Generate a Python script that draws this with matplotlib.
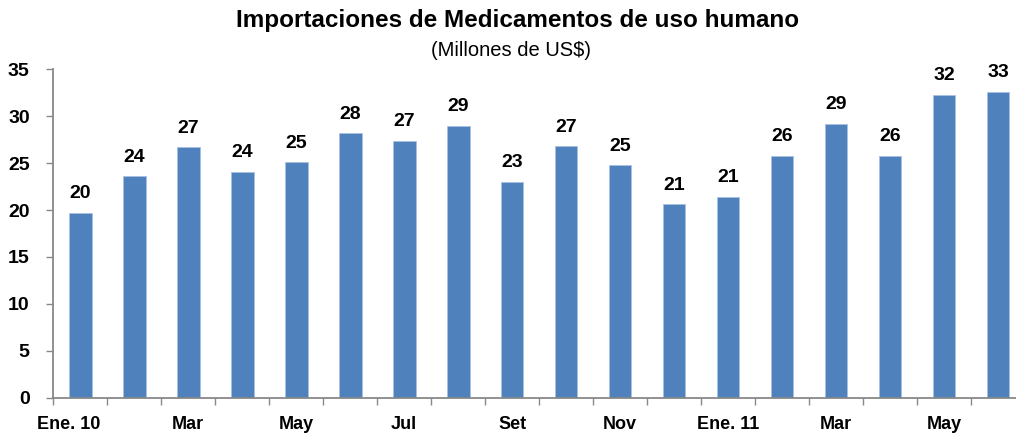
import matplotlib
matplotlib.use("Agg")
import matplotlib.pyplot as plt
import matplotlib.transforms as mtransforms
import numpy as np

plt.rcParams['font.family'] = ['Liberation Sans', 'DejaVu Sans']

months = ["Ene. 10", "Feb", "Mar", "Abr", "May", "Jun", "Jul", "Ago", "Set", "Oct",
          "Nov", "Dic", "Ene. 11", "Feb", "Mar", "Abr", "May", "Jun"]
values = [19.7, 23.6, 26.7, 24.1, 25.1, 28.2, 27.4, 29.0, 23.0, 26.8,
          24.8, 20.6, 21.4, 25.8, 29.2, 25.8, 32.3, 32.6]
yticks = [0, 5, 10, 15, 20, 25, 30, 35]

W, H = 1016, 436
fig = plt.figure(figsize=(W / 100, H / 100), dpi=100)
ax = fig.add_axes([53.3 / W, 38.3 / H, (1025 - 53.3) / W, (397.7 - 69.3) / H])

x = np.arange(len(values))
ax.bar(x, values, width=0.42, color="#4F81BD", edgecolor="#A9C1E0", linewidth=0.6, zorder=2)

for xi, v in zip(x, values):
    ax.annotate(f"{v:.0f}", (xi, v), xytext=(0, 7.5), textcoords="offset points",
                ha="center", va="bottom", fontsize=14, fontweight="bold", color="black")

ax.set_xlim(-0.5, len(values) - 0.5)
ax.set_ylim(0, 35)
ax.set_yticks(yticks)
ax.set_yticklabels([str(t) for t in yticks], fontsize=14, fontweight="bold")

# category boundary ticks
ax.set_xticks(np.arange(len(values) + 1) - 0.5)
ax.set_xticklabels([])
ax.tick_params(axis="x", which="major", length=5, color="#888888", width=1, direction="out")
ax.set_xticks(x[::2], minor=True)
labs = ax.set_xticklabels(months[::2], minor=True, fontsize=13, fontweight="bold")
ax.tick_params(axis="x", which="minor", length=0, pad=13)
ax.tick_params(axis="y", length=5, color="#888888", width=1, direction="out", pad=12)
labs[0].set_transform(labs[0].get_transform() + mtransforms.ScaledTranslation(-12 / 100, 0, fig.dpi_scale_trans))

for s in ["top", "right"]:
    ax.spines[s].set_visible(False)
for s in ["left", "bottom"]:
    ax.spines[s].set_color("#888888")
    ax.spines[s].set_linewidth(1.3)

fig.text(518 / W, 1 - 21 / H, "Importaciones de Medicamentos de uso humano",
         ha="center", va="center", fontsize=17.5, fontweight="bold")
fig.text(511 / W, 1 - 51 / H, "(Millones de US$)", ha="center", va="center", fontsize=14.5)

fig.savefig("out.png", dpi=100)
